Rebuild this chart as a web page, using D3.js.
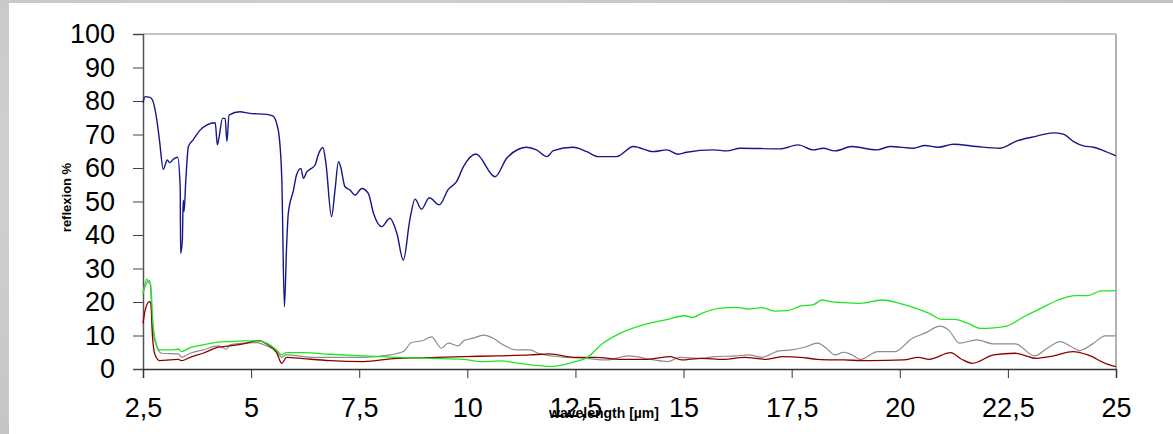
<!DOCTYPE html>
<html><head><meta charset="utf-8">
<script src="https://cdn.jsdelivr.net/npm/d3@7/dist/d3.min.js"></script>
<style>
html,body{margin:0;padding:0;background:#cbcbcb;}
svg{display:block;}
text{font-family:"Liberation Sans",Arial,sans-serif;}
</style></head>
<body>
<script>
const xTicks = [2.5,5,7.5,10,12.5,15,17.5,20,22.5,25];
const yTicks = [0,10,20,30,40,50,60,70,80,90,100];

const blueX = [2.5,2.55,2.66,2.72,2.82,2.88,2.97,3.06,3.12,3.2,3.3,3.36,3.37,3.41,3.43,3.45,3.49,3.55,3.66,3.82,3.97,4.17,4.22,4.26,4.34,4.4,4.44,4.49,4.74,4.97,5.36,5.51,5.59,5.65,5.71,5.77,5.82,5.86,5.98,6.05,6.15,6.21,6.29,6.36,6.48,6.55,6.66,6.73,6.86,6.94,7.02,7.07,7.17,7.29,7.4,7.56,7.71,7.83,8.02,8.21,8.37,8.52,8.67,8.79,8.94,9.12,9.35,9.56,9.75,9.91,10.2,10.64,10.91,11.18,11.37,11.6,11.84,11.99,12.45,12.76,13.03,13.45,13.84,14.3,14.61,14.88,15.07,15.69,16.0,16.31,17.23,17.65,18.0,18.23,18.5,18.89,19.47,19.77,20.31,20.58,20.89,21.24,21.78,22.32,22.71,23.09,23.55,23.78,24.02,24.25,24.48,24.71,25.0];
const blueY = [79.5,81.3,81.1,80.3,74.3,68.4,59.6,62.4,61.6,62.6,63.2,54.4,34.5,38.5,50.4,47,56.4,66.4,68.4,71.3,72.8,73.5,66.9,69.3,74.8,74.8,67.9,75.8,76.8,76.3,76.0,75.5,73.3,69.3,56.4,18.6,36.5,46.5,53.4,57.9,59.9,56.9,58.9,59.6,60.9,63.9,66.1,61.4,45.5,53.4,61.9,60.4,54.4,53.4,51.9,53.9,52.4,46.5,42.5,45.0,40.5,32.5,44.5,50.7,47.7,51.1,49,53.6,55.9,60.4,64.2,57.4,62.9,65.6,66.2,65.4,63.4,65.2,66.2,64.9,63.4,63.4,66.4,64.9,65.4,64.1,64.7,65.4,65.1,65.9,65.7,66.9,65.4,65.9,65.1,66.4,65.4,66.4,65.9,66.7,66.2,67.1,66.4,65.9,68.1,69.3,70.5,70.1,67.9,66.6,66.2,65.2,63.6];

const greenX = [2.5,2.59,2.62,2.68,2.72,2.78,2.89,3.12,3.32,3.39,3.59,3.89,4.24,4.51,4.82,5.13,5.36,5.59,5.71,5.82,6.21,6.82,7.6,8.37,9.14,9.91,10.3,10.76,11.3,11.95,12.49,12.74,13.14,13.54,14.13,14.63,15.02,15.22,15.42,15.82,16.21,16.51,16.81,17.11,17.41,17.7,18.0,18.2,18.4,18.7,19.09,19.59,19.99,20.38,20.68,20.98,21.28,21.58,21.87,22.17,22.47,22.87,23.26,23.66,24.06,24.35,24.65,25.0];
const greenY = [22.8,26.8,26.1,25.1,15.6,8.7,5.7,5.7,5.9,5.2,6.4,7.2,8.0,8.2,8.4,8.4,7.7,5.7,4.2,4.9,4.9,4.4,3.9,3.5,3.2,2.9,2.2,2.4,1.5,0.8,2.2,3.2,7.7,10.7,13.4,14.8,15.9,15.4,16.6,18.1,18.4,17.9,18.3,17.3,17.4,18.8,19.2,20.6,20.1,19.8,19.6,20.6,19.6,18.1,16.6,14.8,14.8,13.6,12.1,12.3,12.8,15.6,18.1,20.6,21.9,21.9,23.3,23.4];

const grayX = [2.5,2.6,2.66,2.72,2.78,2.93,3.32,3.39,3.59,3.89,4.24,4.43,4.51,4.82,5.13,5.36,5.59,5.71,5.82,6.44,7.6,8.21,8.52,8.71,8.98,9.17,9.4,9.56,9.79,9.91,10.14,10.37,10.6,10.83,11.14,11.45,11.64,12.24,12.74,13.23,13.73,14.23,14.63,14.92,15.42,15.72,16.21,16.51,16.81,17.21,17.5,17.8,18.1,18.3,18.5,18.7,18.9,19.09,19.49,19.89,20.29,20.58,20.93,21.13,21.38,21.78,22.17,22.67,23.12,23.41,23.71,23.96,24.16,24.46,24.75,25.0];
const grayY = [22.5,26.0,26.4,12.6,8.2,4.7,4.5,3.5,4.7,5.7,6.9,5.9,7.2,7.7,7.9,6.9,5.2,3.5,4.2,3.5,3.5,4.2,5.2,7.9,8.5,9.6,6.2,7.7,6.9,8.4,9.2,10.1,9.2,7.2,5.7,5.7,4.7,3.5,3.2,2.7,3.9,2.9,2.2,3.5,3.2,3.7,3.9,4.2,3.5,5.4,5.7,6.5,7.7,6.2,4.2,5.0,4.2,2.9,5.2,5.2,9.2,10.7,12.8,11.6,7.7,8.7,7.5,7.5,3.9,6.2,8.2,6.7,5.5,7.5,9.9,9.9];

const redX = [2.5,2.55,2.65,2.68,2.72,2.78,2.89,3.12,3.32,3.39,3.59,3.89,4.24,4.51,4.82,5.18,5.36,5.59,5.71,5.82,6.21,6.82,7.6,8.37,9.14,9.91,10.68,11.45,11.9,12.47,12.97,13.56,14.16,14.7,14.95,15.42,15.92,16.41,16.91,17.31,17.7,18.1,18.7,19.29,20.09,20.43,20.68,21.18,21.43,21.68,22.17,22.67,23.16,23.56,24.0,24.35,24.75,25.0];
const redY = [13.6,17.6,20.1,19.6,9.6,4.2,2.5,2.7,2.9,2.5,3.5,4.7,6.5,6.9,7.5,8.5,7.5,4.9,1.7,3.5,3.1,2.5,2.2,3.2,3.4,3.7,3.9,4.2,4.5,3.5,3.5,2.9,2.9,3.7,2.7,3.2,2.9,3.5,2.9,3.7,3.5,2.9,2.7,2.5,2.7,3.5,2.9,4.9,2.9,1.7,4.2,4.7,3.2,3.9,5.2,4.2,1.7,0.7];

const W = 1173, H = 434;
const svg = d3.select("body").append("svg").attr("width", W).attr("height", H);

// background panel
const defs = svg.append("defs");
const grad = defs.append("radialGradient").attr("id","marble").attr("cx","30%").attr("cy","40%").attr("r","80%");
grad.append("stop").attr("offset","0%").attr("stop-color","#d6d6d6");
grad.append("stop").attr("offset","100%").attr("stop-color","#c2c2c2");
svg.append("rect").attr("width", W).attr("height", H).attr("fill","url(#marble)");
svg.append("rect").attr("x", 9).attr("y", 3).attr("width", W - 9).attr("height", H - 3).attr("fill","#ffffff");

const x = d3.scaleLinear().domain([2.5, 25]).range([143, 1116]);
const y = d3.scaleLinear().domain([0, 100]).range([369, 34]);

// frame: top & right
svg.append("line").attr("x1", x(2.5)).attr("x2", x(25)).attr("y1", y(100)).attr("y2", y(100))
  .attr("stroke", "#8a8a8a").attr("stroke-width", 1);
svg.append("line").attr("x1", x(25)).attr("x2", x(25)).attr("y1", y(100)).attr("y2", y(0))
  .attr("stroke", "#b4b4b4").attr("stroke-width", 2);

const fmt = d => String(d).replace(".", ",");

const yAxis = svg.append("g").attr("transform", `translate(${x(2.5)},0)`)
  .call(d3.axisLeft(y).tickValues(yTicks).tickSize(10).tickPadding(18).tickFormat(d => d));
yAxis.select(".domain").attr("stroke", "#555").attr("stroke-width", 1.5);
yAxis.selectAll(".tick line").attr("stroke", "#444");
yAxis.selectAll("text").attr("font-size", 27).attr("fill", "#000")
  .attr("font-family", "'Liberation Sans',Arial,sans-serif");

const xAxis = svg.append("g").attr("transform", `translate(0,${y(0)})`)
  .call(d3.axisBottom(x).tickValues(xTicks).tickSize(9).tickPadding(20).tickFormat(fmt));
xAxis.select(".domain").attr("stroke", "#333").attr("stroke-width", 1.5);
xAxis.selectAll(".tick line").attr("stroke", "#333");
xAxis.selectAll("text").attr("font-size", 27).attr("fill", "#000")
  .attr("font-family", "'Liberation Sans',Arial,sans-serif");

// axis titles
svg.append("text").attr("transform", "translate(71,197.5) rotate(-90)")
  .attr("text-anchor", "middle").attr("font-size", 13).attr("font-weight", "bold").text("reflexion %");
svg.append("text").attr("x", 549).attr("y", 418)
  .attr("text-anchor", "start").attr("font-size", 14).attr("font-weight", "bold").text("wavelength [µm]");

const line = d3.line().x(d => x(d[0])).y(d => y(d[1])).curve(d3.curveMonotoneX);
const series = [
  {xs: grayX, ys: grayY, color: "#8c8c8c", w: 1.2},
  {xs: redX, ys: redY, color: "#8b0000", w: 1.3},
  {xs: greenX, ys: greenY, color: "#1ee61e", w: 1.3},
  {xs: blueX, ys: blueY, color: "#16168a", w: 1.4}
];
series.forEach(s => {
  svg.append("path").datum(s.xs.map((v, i) => [v, s.ys[i]]))
    .attr("fill", "none").attr("stroke", s.color).attr("stroke-width", s.w)
    .attr("stroke-linejoin", "round").attr("d", line);
});
</script>
</body></html>
